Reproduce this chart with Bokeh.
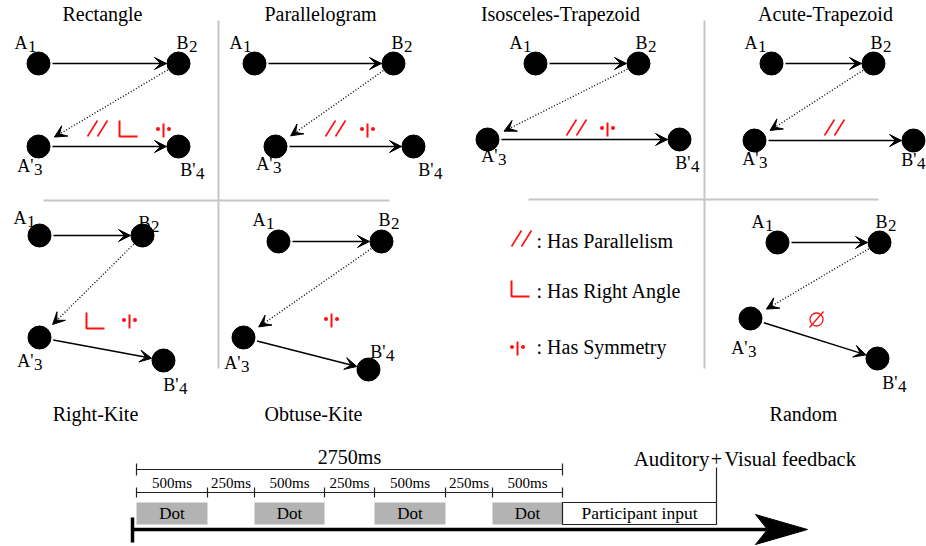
import math
from bokeh.plotting import figure
from bokeh.models import Range1d, Arrow, VeeHead, ColumnDataSource
from bokeh.core.properties import value
from bokeh.embed import file_html
from bokeh.resources import INLINE

SERIF = "Liberation Serif"
RED = "#ff1010"

# ---------------- panel data ----------------
panel_names = ["Rectangle", "Parallelogram", "Isosceles-Trapezoid", "Acute-Trapezoid",
               "Right-Kite", "Obtuse-Kite", "Random"]
title_x = [102, 320, 560, 825, 95, 313, 803]
title_y = [20, 20, 20, 20, 420, 420, 420]

# dot centres (A1, B2, A'3, B'4) for each panel
a1_x = [38, 254, 535, 771, 39, 278, 777]
a1_y = [63, 63, 63, 63, 235, 241, 242]
b2_x = [178, 393, 638, 873, 142, 381, 879]
b2_y = [63, 63, 63, 63, 235, 241, 242]
a3_x = [38, 275, 487, 754, 39, 243, 750]
a3_y = [146, 146, 139, 140, 337, 337, 318]
b4_x = [178, 413, 679, 913, 163, 368, 877]
b4_y = [146, 146, 139, 140, 360, 369, 358]

# label anchors (junction between letter and subscript, baseline)
lab_a1_x = [27, 242, 522, 757, 26, 265, 764]
lab_a1_y = [48, 48, 48, 48, 223, 225, 227]
lab_b2_x = [188, 403, 647, 882, 150, 390, 887]
lab_b2_y = [48, 48, 48, 48, 228, 225, 227]
lab_a3_x = [33, 272, 497, 758, 33, 240, 747]
lab_a3_y = [171, 169, 161, 164, 366, 368, 353]
lab_b4_x = [195, 433, 690, 916, 178, 385, 897]
lab_b4_y = [175, 175, 168, 165, 390, 357, 388]

# property marks
par_x = [97, 335, 576, 834]
par_y = [128, 128, 127, 127]
ang_x = [128, 95]
ang_y = [128, 320]
sym_x = [163, 367, 607, 129, 331]
sym_y = [130, 130, 129, 321, 320]
none_x = [816]
none_y = [319]

# legend
legend_sym_x = [521, 520, 517]
legend_sym_y = [238, 288, 348]
legend_text = [": Has Parallelism", ": Has Right Angle", ": Has Symmetry"]
legend_text_x = [536, 536, 536]
legend_text_y = [247, 297, 353]

# separators
sep_x0 = [218, 43, 704, 528]
sep_y0 = [20, 200, 20, 199]
sep_x1 = [218, 389, 704, 878]
sep_y1 = [368, 200, 368, 199]

# ---------------- timeline data ----------------
seg_labels = ["500ms", "250ms", "500ms", "250ms", "500ms", "250ms", "500ms"]
seg_edges = [136, 207, 254, 324, 374, 445, 492, 562]
dot_segments = [0, 2, 4, 6]
total_label = "2750ms"
input_edges = [562, 716]
time_axis_x = [132, 807]
time_axis_y = 529

R = 11.5
W, H = 926, 546

p = figure(width=W, height=H, x_range=Range1d(0, W), y_range=Range1d(H, 0),
           output_backend="svg", toolbar_location=None, min_border=0,
           x_axis_location=None, y_axis_location=None)
p.grid.visible = False
p.outline_line_color = None
p.background_fill_color = "white"

def txt(x, y, t, size, align="center", color="black"):
    fs = float(size.replace("px", ""))
    ym = [v - 0.33 * fs for v in y]      # baseline -> visual middle of capitals
    p.text(x=x, y=ym, text=t, text_align=align, text_baseline="middle",
           text_font=value(SERIF), text_font_size=value(size), text_color=color)

# separators
p.segment(sep_x0, sep_y0, sep_x1, sep_y1, line_color="#c6c6c6", line_width=2)

# titles
txt(title_x, title_y, panel_names, "20px")

# arrows
def shorten(x0, y0, x1, y1, d0, d1):
    dx, dy = x1 - x0, y1 - y0
    L = math.hypot(dx, dy)
    ux, uy = dx / L, dy / L
    return x0 + ux * d0, y0 + uy * d0, x1 - ux * d1, y1 - uy * d1

solid = dict(x0=[], y0=[], x1=[], y1=[])
dotted = dict(x0=[], y0=[], x1=[], y1=[])
for i in range(len(panel_names)):
    for (xa, ya, xb, yb) in [(a1_x[i], a1_y[i], b2_x[i], b2_y[i]),
                             (a3_x[i], a3_y[i], b4_x[i], b4_y[i])]:
        s = shorten(xa, ya, xb, yb, R + 2.5, R + 0.5)
        for k, v in zip(["x0", "y0", "x1", "y1"], s):
            solid[k].append(v)
    s = shorten(b2_x[i], b2_y[i], a3_x[i], a3_y[i], R + 1, R + 7)
    for k, v in zip(["x0", "y0", "x1", "y1"], s):
        dotted[k].append(v)

p.add_layout(Arrow(end=VeeHead(size=12, fill_color="black", line_color="black", line_width=1),
                   x_start="x0", y_start="y0", x_end="x1", y_end="y1",
                   source=ColumnDataSource(solid), line_color="black", line_width=1.5))
p.add_layout(Arrow(end=VeeHead(size=12, fill_color="black", line_color="black", line_width=1),
                   x_start="x0", y_start="y0", x_end="x1", y_end="y1",
                   source=ColumnDataSource(dotted), line_color="black", line_width=1.4,
                   line_dash="1 2"))

# dots
all_x = a1_x + b2_x + a3_x + b4_x
all_y = a1_y + b2_y + a3_y + b4_y
p.circle(all_x, all_y, radius=R, fill_color="black", line_color="black")

# point labels
for lx, ly, main, sub in [(lab_a1_x, lab_a1_y, "A", "1"), (lab_b2_x, lab_b2_y, "B", "2"),
                          (lab_a3_x, lab_a3_y, "A'", "3"), (lab_b4_x, lab_b4_y, "B'", "4")]:
    txt(lx, ly, [main] * len(lx), "18px", align="right")
    txt([v + 0.5 for v in lx], [v + 4 for v in ly], [sub] * len(lx), "17px", align="left")

# mark drawing helpers
def parallel(cx, cy):
    x0, y0, x1, y1 = [], [], [], []
    for x, y in zip(cx, cy):
        for off in (-5, 5):
            x0.append(x + off - 5); y0.append(y + 8)
            x1.append(x + off + 5); y1.append(y - 8)
    p.segment(x0, y0, x1, y1, line_color=RED, line_width=1.6)

def right_angle(cx, cy):
    xs, ys = [], []
    for x, y in zip(cx, cy):
        xs.append([x - 9, x - 9, x + 9]); ys.append([y - 8, y + 8, y + 8])
    p.multi_line(xs, ys, line_color=RED, line_width=2)

def symmetry(cx, cy):
    p.segment(cx, [y - 7 for y in cy], cx, [y + 7 for y in cy], line_color=RED, line_width=2)
    p.circle([x - 5.5 for x in cx] + [x + 5.5 for x in cx], [y - 1.5 for y in cy] * 2,
             radius=2, fill_color=RED, line_color=None)

def empty_set(cx, cy):
    p.circle(cx, cy, radius=6.5, fill_color=None, line_color=RED, line_width=1.3)
    p.segment([x - 7 for x in cx], [y + 8 for y in cy], [x + 7 for x in cx], [y - 8 for y in cy],
              line_color=RED, line_width=1.3)

parallel(par_x, par_y)
right_angle(ang_x, ang_y)
symmetry(sym_x, sym_y)
empty_set(none_x, none_y)

# legend
parallel(legend_sym_x[:1], legend_sym_y[:1])
right_angle(legend_sym_x[1:2], legend_sym_y[1:2])
symmetry(legend_sym_x[2:3], legend_sym_y[2:3])
txt(legend_text_x, legend_text_y, legend_text, "20px", align="left")

# ---------------- timeline ----------------
tot_y = 469
seg_y = 492
p.segment([seg_edges[0]], [tot_y], [seg_edges[-1]], [tot_y], line_color="#222222", line_width=1.2)
p.segment([seg_edges[0], seg_edges[-1]], [tot_y - 6] * 2, [seg_edges[0], seg_edges[-1]], [tot_y + 6] * 2,
          line_color="#222222", line_width=1.2)
txt([(seg_edges[0] + seg_edges[-1]) / 2], [463], [total_label], "20px")

p.segment([seg_edges[0]], [seg_y], [seg_edges[-1]], [seg_y], line_color="#222222", line_width=1.2)
p.segment(seg_edges, [seg_y - 5] * len(seg_edges), seg_edges, [seg_y + 5] * len(seg_edges),
          line_color="#222222", line_width=1.2)
mids = [(seg_edges[i] + seg_edges[i + 1]) / 2 for i in range(len(seg_labels))]
txt(mids, [487] * len(mids), seg_labels, "15px")

box_top, box_bot = 502, 524
p.quad(left=[seg_edges[i] for i in dot_segments], right=[seg_edges[i + 1] for i in dot_segments],
       top=[box_top] * 4, bottom=[box_bot] * 4, fill_color="#b3b3b3", line_color=None)
txt([mids[i] for i in dot_segments], [519] * 4, ["Dot"] * 4, "17px")

p.quad(left=[input_edges[0]], right=[input_edges[1]], top=[box_top], bottom=[box_bot],
       fill_color="white", line_color="#222222", line_width=1.2)
txt([(input_edges[0] + input_edges[1]) / 2], [518], ["Participant input"], "17.5px")

p.segment([input_edges[1]], [467], [input_edges[1]], [box_top], line_color="#222222", line_width=1.2)
txt([input_edges[1] - 7], [465], ["Auditory"], "21px", align="right")
txt([input_edges[1]], [465], ["+"], "20px")
txt([input_edges[1] + 8], [465], ["Visual feedback"], "20.5px", align="left")

# main time arrow
ax0, ax1 = time_axis_x
p.segment([ax0], [time_axis_y], [ax1 - 40], [time_axis_y], line_color="black", line_width=3.5)
p.segment([ax0], [time_axis_y - 12], [ax0], [time_axis_y + 13], line_color="black", line_width=3.5)
hx = [ax1, ax1 - 52, ax1 - 40, ax1 - 52]
hy = [time_axis_y, time_axis_y - 15, time_axis_y, time_axis_y + 15]
p.patch(hx, hy, fill_color="black", line_color="black")

open("out.html", "w").write(file_html(p, INLINE))
